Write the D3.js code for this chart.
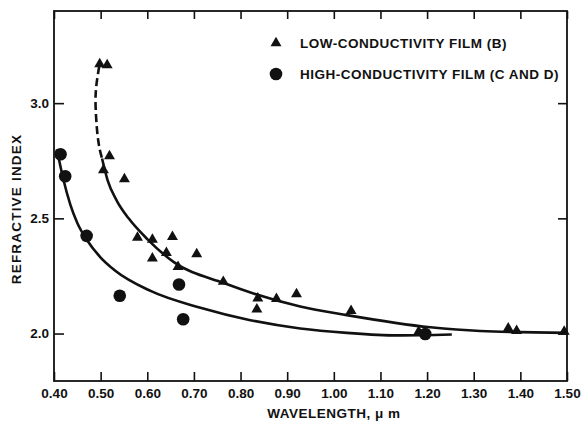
<!DOCTYPE html>
<html>
<head>
<meta charset="utf-8">
<script src="https://cdn.jsdelivr.net/npm/d3@7"></script>
<style>
    body { margin: 0; background: #fff; }
    text { font-family: "Liberation Sans", Arial, Helvetica, sans-serif; font-weight: bold; fill: #111; }
    .axis path { display: none; }
    .axis line { stroke: #111; stroke-width: 1.6; }
</style>
</head>
<body>
<div class="chart"></div>
<script>
// measured points, low-conductivity film (B)
var lowLambda = [0.498, 0.514, 0.519, 0.506, 0.551, 0.579, 0.611, 0.654, 0.611, 0.641,
                 0.706, 0.666, 0.763, 0.837, 0.835, 0.877, 0.920, 1.037, 1.182, 1.374,
                 1.392, 1.494];
var lowIndex = [3.17, 3.165, 2.77, 2.709, 2.67, 2.417, 2.408, 2.42, 2.326, 2.35,
                2.345, 2.29, 2.225, 2.153, 2.105, 2.151, 2.171, 2.099, 2.008, 2.023,
                2.012, 2.008];

// measured points, high-conductivity film (C and D)
var highLambda = [0.414, 0.424, 0.470, 0.541, 0.668, 0.677, 1.196];
var highIndex = [2.778, 2.683, 2.424, 2.164, 2.213, 2.062, 1.998];

// hand-drawn fit curves
var lowDashLambda = [0.497, 0.491, 0.489, 0.493, 0.498, 0.503];
var lowDashIndex = [3.16, 3.08, 3.012, 2.869, 2.80, 2.76];
var lowFitLambda = [0.503, 0.515, 0.535, 0.560, 0.600, 0.657, 0.764, 0.928, 1.028, 1.207, 1.314, 1.499];
var lowFitIndex = [2.76, 2.665, 2.575, 2.50, 2.41, 2.31, 2.219, 2.117, 2.080, 2.027, 2.011, 2.003];
var highFitLambda = [0.406, 0.420, 0.435, 0.450, 0.471, 0.500, 0.530, 0.607, 0.714, 0.821, 0.928, 1.028, 1.135, 1.253];
var highFitIndex = [2.80, 2.67, 2.56, 2.48, 2.405, 2.33, 2.275, 2.185, 2.112, 2.058, 2.022, 2.003, 1.992, 1.996];

var xTicks = [0.4, 0.5, 0.6, 0.7, 0.8, 0.9, 1.0, 1.1, 1.2, 1.3, 1.4, 1.5];
var yTicks = [2.0, 2.5, 3.0];

var legendLabels = ["LOW-CONDUCTIVITY FILM (B)", "HIGH-CONDUCTIVITY FILM (C AND D)"];

var margin = {top: 11, right: 15, bottom: 42, left: 54},
    width = 582 - margin.left - margin.right,
    height = 423 - margin.top - margin.bottom;

var x = d3.scaleLinear()
    .domain([0.4, 1.5])
    .range([0, width]);

var y = d3.scaleLinear()
    .domain([1.794, 3.4])
    .range([height, 0]);

var svg = d3.select(".chart").append("svg")
    .attr("width", width + margin.left + margin.right)
    .attr("height", height + margin.top + margin.bottom)
    .append("g")
    .attr("transform", "translate(" + margin.left + "," + margin.top + ")");

function zip(xs, ys) {
    return xs.map(function(d, i) { return [d, ys[i]]; });
}

// axes, all ticks pointing inward
svg.append("g")
    .attr("class", "x axis")
    .attr("transform", "translate(0," + height + ")")
    .call(d3.axisBottom(x).tickValues(xTicks).tickSize(-9).tickPadding(7).tickFormat(d3.format(".2f")))
    .selectAll("text")
    .style("font-size", "13.5px")
    .style("fill", "#111");

svg.append("g")
    .attr("class", "x axis")
    .call(d3.axisTop(x).tickValues(xTicks).tickSize(-8).tickFormat(""));

svg.append("g")
    .attr("class", "y axis")
    .call(d3.axisLeft(y).tickValues(yTicks).tickSize(-10).tickPadding(5).tickFormat(d3.format(".1f")))
    .selectAll("text")
    .style("font-size", "13.5px")
    .style("fill", "#111");

svg.append("g")
    .attr("class", "y axis")
    .attr("transform", "translate(" + width + ",0)")
    .call(d3.axisRight(y).tickValues(yTicks).tickSize(-9).tickFormat(""));

svg.append("rect")
    .attr("width", width)
    .attr("height", height)
    .attr("fill", "none")
    .attr("stroke", "#111")
    .attr("stroke-width", 1.8);

// fit curves
var dashLine = d3.line()
    .x(function(d) { return x(d[0]); })
    .y(function(d) { return y(d[1]); })
    .curve(d3.curveCatmullRom);

var line = d3.line()
    .x(function(d) { return x(d[0]); })
    .y(function(d) { return y(d[1]); })
    .curve(d3.curveMonotoneX);

svg.append("path")
    .datum(zip(lowDashLambda, lowDashIndex))
    .attr("d", dashLine)
    .attr("fill", "none")
    .attr("stroke", "#111")
    .attr("stroke-width", 2.6)
    .attr("stroke-dasharray", "8,4");

svg.append("path")
    .datum(zip(lowFitLambda, lowFitIndex))
    .attr("d", line)
    .attr("fill", "none")
    .attr("stroke", "#111")
    .attr("stroke-width", 2.6);

svg.append("path")
    .datum(zip(highFitLambda, highFitIndex))
    .attr("d", line)
    .attr("fill", "none")
    .attr("stroke", "#111")
    .attr("stroke-width", 2.6);

// markers
var tri = d3.symbol().type(d3.symbolTriangle).size(52);

svg.selectAll("path.low")
    .data(zip(lowLambda, lowIndex))
    .enter().append("path")
    .attr("class", "low")
    .attr("d", tri)
    .attr("transform", function(d) { return "translate(" + x(d[0]) + "," + y(d[1]) + ")"; })
    .attr("fill", "#111");

svg.selectAll("circle.high")
    .data(zip(highLambda, highIndex))
    .enter().append("circle")
    .attr("class", "high")
    .attr("cx", function(d) { return x(d[0]); })
    .attr("cy", function(d) { return y(d[1]); })
    .attr("r", 6.3)
    .attr("fill", "#111");

// legend
var legend = svg.append("g")
    .attr("transform", "translate(" + (276 - margin.left) + "," + (43 - margin.top) + ")");

legend.append("path")
    .attr("d", tri)
    .attr("fill", "#111");

legend.append("circle")
    .attr("cy", 31)
    .attr("r", 6.3)
    .attr("fill", "#111");

legend.selectAll("text")
    .data(legendLabels)
    .enter().append("text")
    .attr("x", 24)
    .attr("y", function(d, i) { return i * 31 + 5; })
    .style("font-size", "13.5px")
    .style("letter-spacing", "0.5px")
    .text(function(d) { return d; });

// axis titles
svg.append("text")
    .attr("x", 334 - margin.left)
    .attr("y", 418 - margin.top)
    .style("text-anchor", "middle")
    .style("font-size", "13.5px")
    .style("letter-spacing", "0.5px")
    .text("WAVELENGTH, \u03bc m");

svg.append("text")
    .attr("transform", "translate(" + (21 - margin.left) + "," + (209 - margin.top) + ") rotate(-90)")
    .style("text-anchor", "middle")
    .style("font-size", "13.5px")
    .style("letter-spacing", "1.2px")
    .text("REFRACTIVE INDEX");
</script>
</body>
</html>
